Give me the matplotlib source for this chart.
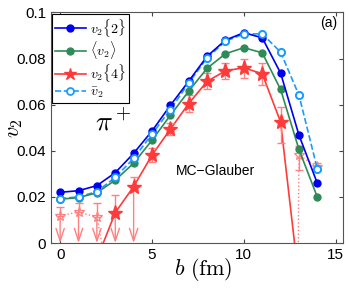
import numpy as np
import matplotlib
matplotlib.use('Agg')
import matplotlib.pyplot as plt
from matplotlib.lines import Line2D

plt.rcParams['mathtext.fontset'] = 'cm'
plt.rcParams['font.family'] = ['Liberation Sans', 'DejaVu Sans']

# impact parameter b (fm)
b = list(range(15))

v2_2 = [0.0220, 0.0227, 0.0249, 0.0305, 0.0389, 0.0486, 0.0597, 0.0702,
        0.0810, 0.0880, 0.0912, 0.0890, 0.0737, 0.0468, 0.0259]
v2_mean = [0.0190, 0.0197, 0.0218, 0.0273, 0.0346, 0.0446, 0.0554, 0.0659,
           0.0758, 0.0821, 0.0847, 0.0825, 0.0666, 0.0406, 0.0199]
v2_bar = [0.0193, 0.0200, 0.0223, 0.0285, 0.0367, 0.0472, 0.0579, 0.0694,
          0.0803, 0.0875, 0.0907, 0.0907, 0.0828, 0.0641, 0.0321]

# v2{4}: real part (solid line), line runs a bit past the marked points
b4_line = [2, 3, 4, 5, 6, 7, 8, 9, 10, 11, 12, 13]
v2_4_line = [-0.0070, 0.0132, 0.0245, 0.0381, 0.0494, 0.0605, 0.0701,
             0.0747, 0.0760, 0.0734, 0.0525, -0.0166]
b4 = [3, 4, 5, 6, 7, 8, 9, 10, 11, 12]
v2_4 = [0.0132, 0.0245, 0.0381, 0.0494, 0.0605, 0.0701, 0.0747, 0.0760,
        0.0734, 0.0525]
v2_4_up = [0.0077, 0.0043, 0.0030, 0.0025, 0.0035, 0.0035, 0.0035, 0.0040,
           0.0045, 0.0065]
v2_4_lo = [0.0, 0.0, 0.0030, 0.0025, 0.0035, 0.0035, 0.0035, 0.0045,
           0.0050, 0.0090]
b4_arrow = [3, 4]

# v2{4}: open stars (dotted line)
b4i_line = [0, 1, 2, 3, 12, 13, 14]
v2_4i_line = [0.0118, 0.0135, 0.0112, -0.0300, -1.0, 0.0381, 0.0331]
b4i = [0, 1, 2, 13, 14]
v2_4i = [0.0118, 0.0135, 0.0112, 0.0381, 0.0331]
v2_4i_up = [0.0040, 0.0040, 0.0063, 0.0040, 0.0016]
v2_4i_lo = [0.0, 0.0, 0.0, 0.0064, 0.0020]
b4i_arrow = [0, 1, 2]

BLUE = '#0000f0'
GREEN = '#2e8b57'
RED = '#ff3a3a'
PINK = '#ff8080'
CYAN = '#1a9cff'

fig = plt.figure(figsize=(3.49, 2.89), dpi=100)
ax = fig.add_axes([0.146, 0.159, 0.837, 0.798])

# break the dotted line where there are no values
seg1 = slice(0, 4)
seg2 = slice(4, 7)
ax.plot(b4i_line[seg1], v2_4i_line[seg1], ':', color=PINK, lw=1.0, zorder=1)
ax.plot(b4i_line[seg2], v2_4i_line[seg2], ':', color=PINK, lw=1.0, zorder=1)

ax.plot(b4_line, v2_4_line, '-', color=RED, lw=1.2, zorder=2)

ax.errorbar(b4, v2_4, yerr=[v2_4_lo, v2_4_up], fmt='none', ecolor=PINK,
            elinewidth=1.0, capsize=3, zorder=2)
ax.errorbar(b4i, v2_4i, yerr=[v2_4i_lo, v2_4i_up], fmt='none', ecolor=PINK,
            elinewidth=1.0, capsize=3, zorder=2)

for bb, vv in list(zip(b4_arrow, v2_4[:2])) + list(zip(b4i_arrow, v2_4i[:3])):
    ax.annotate('', xy=(bb, 0.0), xytext=(bb, vv),
                arrowprops=dict(arrowstyle='->,head_length=0.9,head_width=0.3',
                                color=PINK, lw=1.0, shrinkA=0, shrinkB=0),
                zorder=2)

ax.plot(b4i, v2_4i, '*', color=PINK, mfc='none', mec=PINK, ms=8, mew=0.9,
        zorder=3)

ax.plot(b, v2_bar, '--o', color=CYAN, mfc='white', mec=CYAN, ms=5, mew=1.3,
        lw=1.2, zorder=4)
ax.plot(b, v2_mean, '-o', color=GREEN, ms=5, lw=1.2, zorder=5)
ax.plot(b, v2_2, '-o', color=BLUE, ms=5, lw=1.2, zorder=6)
ax.plot(b4, v2_4, '*', color=RED, ms=11, zorder=7)
# re-draw cyan open markers on top of blue
ax.plot(b, v2_bar, 'o', color=CYAN, mfc='white', mec=CYAN, ms=5, mew=1.3,
        zorder=6.5)

handles = [
    Line2D([], [], color=BLUE, marker='o', ms=5, lw=1.2),
    Line2D([], [], color=GREEN, marker='o', ms=5, lw=1.2),
    Line2D([], [], color=RED, marker='*', ms=9, lw=1.2),
    Line2D([], [], color=CYAN, marker='o', mfc='white', ms=5, mew=1.3,
           ls='--', lw=1.2),
]
labels = [r'$v_2\{2\}$', r'$\langle v_2\rangle$', r'$v_2\{4\}$', r'$\bar{v}_2$']
leg = ax.legend(handles, labels, loc='upper left', fontsize=10,
                handlelength=2.2, handletextpad=0.3, labelspacing=0.05,
                borderpad=0.2, borderaxespad=0.1, fancybox=False,
                framealpha=1, edgecolor='black')
leg.get_frame().set_linewidth(0.8)

ax.set_xlim(-0.5, 15.4)
ax.set_ylim(0, 0.1)
ax.set_xticks([0, 5, 10, 15])
ax.set_yticks([0, 0.02, 0.04, 0.06, 0.08, 0.1])
ax.set_yticklabels(['0', '0.02', '0.04', '0.06', '0.08', '0.1'])
ax.tick_params(direction='in', top=True, right=True, labelsize=11,
               length=3, color='#444444')
for s in ax.spines.values():
    s.set_color('#555555')
    s.set_linewidth(0.8)

ax.set_xlabel(r'$b\ (\mathrm{fm})$', fontsize=16, va='center')
ax.set_ylabel(r'$v_2$', fontsize=16, va='center')
ax.xaxis.set_label_coords(0.52, -0.115)
ax.yaxis.set_label_coords(-0.125, 0.5)

ax.text(1.9, 0.049, r'$\pi^+$', fontsize=20)
ax.text(6.3, 0.0295, 'MC\u2212Glauber', fontsize=10)
ax.text(15.1, 0.0955, '(a)', fontsize=10, ha='right', va='center')

fig.savefig('out.png', dpi=100)
